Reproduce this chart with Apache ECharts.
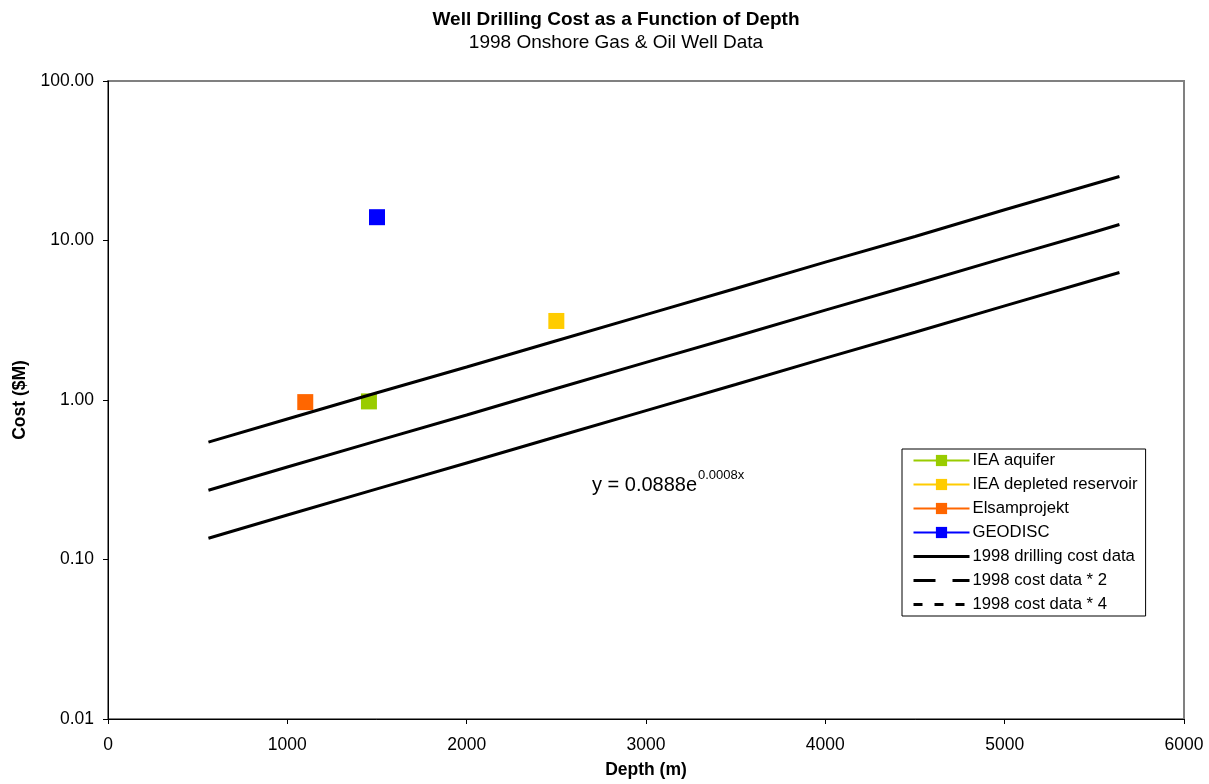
<!DOCTYPE html>
<html>
<head>
<meta charset="utf-8">
<script src="https://cdn.jsdelivr.net/npm/echarts@6/dist/echarts.min.js"></script>
<style>html,body{margin:0;padding:0;background:#fff}#c{width:1209px;height:784px}</style>
</head>
<body>
<div id="c"></div>
<script>
// Data
var depthLine = [560, 1000, 1500, 2000, 2500, 3000, 3500, 4000, 4500, 5000, 5500, 5640];
var cost1998 = [0.136, 0.190, 0.277, 0.403, 0.588, 0.858, 1.25, 1.83, 2.66, 3.89, 5.67, 6.30];
var cost1998x2 = [0.272, 0.380, 0.554, 0.806, 1.18, 1.72, 2.50, 3.66, 5.32, 7.78, 11.3, 12.6];
var cost1998x4 = [0.544, 0.760, 1.11, 1.61, 2.35, 3.43, 5.00, 7.32, 10.6, 15.6, 22.7, 25.2];
var ieaAquifer = [[1455, 0.98]];
var ieaDepleted = [[2500, 3.13]];
var elsam = [[1100, 0.97]];
var geodisc = [[1500, 14.0]];
var xTicks = [0, 1000, 2000, 3000, 4000, 5000, 6000];
var yTicks = [0.01, 0.1, 1, 10, 100];

function pairs(xs, ys) { return xs.map(function (x, i) { return [x, ys[i]]; }); }

var FONT = '"Liberation Sans", Arial, sans-serif';
var chart = echarts.init(document.getElementById('c'), null, { renderer: 'canvas' });

function markerSeries(name, data, color) {
  return {
    name: name, type: 'line', data: data, symbol: 'rect', symbolSize: 16,
    showSymbol: true, itemStyle: { color: color, opacity: 1 },
    lineStyle: { color: color, width: 1 }, z: 2, animation: false
  };
}
function lineSeries(name, data) {
  return {
    name: name, type: 'line', data: data, showSymbol: false, symbol: 'none',
    lineStyle: { color: '#000', width: 3 }, itemStyle: { color: '#000' }, z: 3, animation: false
  };
}

chart.setOption({
  animation: false,
  backgroundColor: '#fff',
  textStyle: { fontFamily: FONT },
  title: [{
    text: 'Well Drilling Cost as a Function of Depth',
    subtext: '1998 Onshore Gas & Oil Well Data',
    left: 611, textAlign: 'center', top: 5, itemGap: 4,
    textStyle: { fontFamily: FONT, fontSize: 19, fontWeight: 'bold', color: '#000' },
    subtextStyle: { fontFamily: FONT, fontSize: 19, color: '#000' }
  }],
  grid: { left: 108, right: 25, top: 81, bottom: 64, show: true, borderColor: '#808080', borderWidth: 2, backgroundColor: '#fff' },
  xAxis: {
    type: 'value', min: xTicks[0], max: xTicks[xTicks.length - 1], interval: 1000,
    name: 'Depth (m)', nameLocation: 'middle', nameGap: 42,
    nameTextStyle: { fontFamily: FONT, fontSize: 17.5, fontWeight: 'bold', color: '#000' },
    axisLine: { show: true, onZero: false, lineStyle: { color: '#000', width: 1 } },
    axisTick: { show: true, length: 5, lineStyle: { color: '#000' } },
    axisLabel: { fontFamily: FONT, fontSize: 17.5, color: '#000', margin: 17,
      formatter: function (v) { return String(v); } },
    splitLine: { show: false }
  },
  yAxis: {
    type: 'log', logBase: 10, min: yTicks[0], max: yTicks[yTicks.length - 1],
    name: 'Cost ($M)', nameLocation: 'middle', nameGap: 75, nameRotate: 90,
    nameTextStyle: { fontFamily: FONT, fontSize: 17.5, fontWeight: 'bold', color: '#000' },
    axisLine: { show: true, onZero: false, lineStyle: { color: '#000', width: 1 } },
    axisTick: { show: true, length: 5, lineStyle: { color: '#000' } },
    axisLabel: { fontFamily: FONT, fontSize: 17.5, color: '#000', margin: 14,
      formatter: function (v) { return Number(v).toFixed(2); } },
    splitLine: { show: false }, minorTick: { show: false }
  },
  legend: {
    orient: 'vertical', left: 902, top: 449,
    padding: [3, 8, 3, 10], itemGap: 7, itemWidth: 56, itemHeight: 14,
    borderColor: '#000', borderWidth: 1, backgroundColor: '#fff',
    textStyle: { fontFamily: FONT, fontSize: 16.7, color: '#000', padding: [0, 0, 0, -2] },
    data: [
      { name: 'IEA aquifer' },
      { name: 'IEA depleted reservoir' },
      { name: 'Elsamprojekt' },
      { name: 'GEODISC' },
      { name: '1998 drilling cost data', itemStyle: { opacity: 0 }, lineStyle: { type: 'solid', width: 3 } },
      { name: '1998 cost data * 2', itemStyle: { opacity: 0 }, lineStyle: { type: [22, 17], width: 3 } },
      { name: '1998 cost data * 4', itemStyle: { opacity: 0 }, lineStyle: { type: [9, 12], width: 3 } }
    ]
  },
  graphic: [{
    type: 'text', x: 592, y: 495, z: 100,
    style: { text: 'y = 0.0888e', fontFamily: FONT, fontSize: 20, fill: '#000', verticalAlign: 'bottom', align: 'left' }
  }, {
    type: 'text', x: 698, y: 482, z: 100,
    style: { text: '0.0008x', fontFamily: FONT, fontSize: 13, fill: '#000', verticalAlign: 'bottom', align: 'left' }
  }],
  series: [
    markerSeries('IEA aquifer', ieaAquifer, '#99CC00'),
    markerSeries('IEA depleted reservoir', ieaDepleted, '#FFCC00'),
    markerSeries('Elsamprojekt', elsam, '#FF6600'),
    markerSeries('GEODISC', geodisc, '#0000FF'),
    lineSeries('1998 drilling cost data', pairs(depthLine, cost1998)),
    lineSeries('1998 cost data * 2', pairs(depthLine, cost1998x2)),
    lineSeries('1998 cost data * 4', pairs(depthLine, cost1998x4))
  ]
});
</script>
</body>
</html>
